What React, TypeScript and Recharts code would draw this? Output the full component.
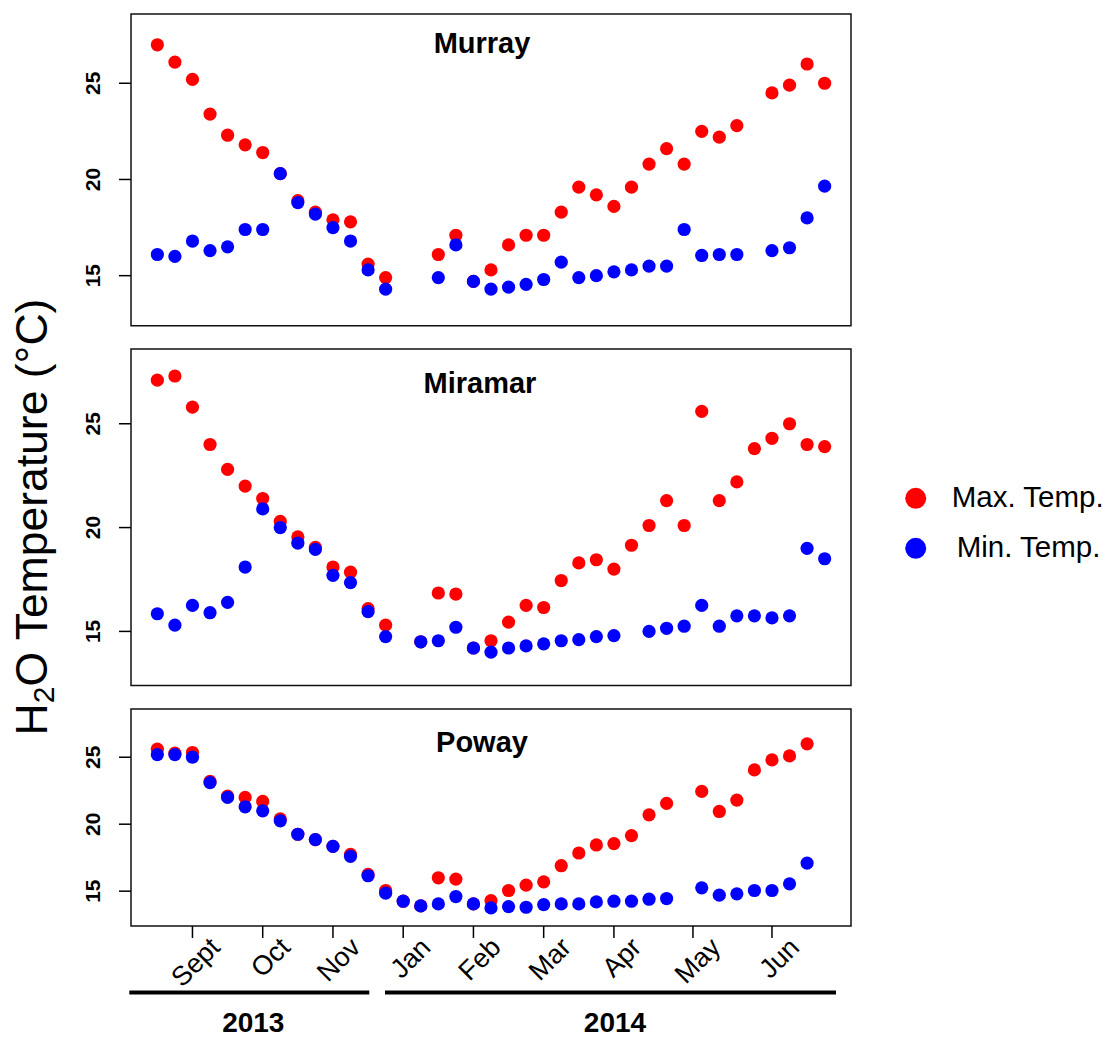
import { ScatterChart, Scatter, XAxis, YAxis, ReferenceArea } from 'recharts'

// weekly sample index (0 = early Aug 2013)
const weeks = Array.from({ length: 39 }, (_, i) => i)

const monthTicks = [2, 6, 10, 14, 18, 22, 26, 30.5, 35]
const monthLabels = ['Sept', 'Oct', 'Nov', 'Jan', 'Feb', 'Mar', 'Apr', 'May', 'Jun']
const tempTicks = [15, 20, 25]

const murrayMax = [27.0, 26.1, 25.2, 23.4, 22.3, 21.8, 21.4, 20.3, 18.9, 18.3, 17.9, 17.8, 15.6, 14.9, null, null, 16.1, 17.1, 14.7, 15.3, 16.6, 17.1, 17.1, 18.3, 19.6, 19.2, 18.6, 19.6, 20.8, 21.6, 20.8, 22.5, 22.2, 22.8, null, 24.5, 24.9, 26.0, 25.0]
const murrayMin = [16.1, 16.0, 16.8, 16.3, 16.5, 17.4, 17.4, 20.3, 18.8, 18.2, 17.5, 16.8, 15.3, 14.3, null, null, 14.9, 16.6, 14.7, 14.3, 14.4, 14.55, 14.8, 15.7, 14.9, 15.0, 15.2, 15.3, 15.5, 15.5, 17.4, 16.05, 16.1, 16.1, null, 16.3, 16.45, 18.0, 19.65]

const miramarMax = [27.1, 27.3, 25.8, 24.0, 22.8, 22.0, 21.4, 20.3, 19.55, 19.05, 18.1, 17.85, 16.1, 15.3, null, 14.5, 16.85, 16.8, 14.2, 14.55, 15.45, 16.25, 16.15, 17.45, 18.3, 18.45, 18.0, 19.15, 20.1, 21.3, 20.1, 25.6, 21.3, 22.2, 23.8, 24.3, 25.0, 24.0, 23.9]
const miramarMin = [15.85, 15.3, 16.25, 15.9, 16.4, 18.1, 20.9, 20.0, 19.25, 18.95, 17.7, 17.35, 15.95, 14.75, null, 14.5, 14.55, 15.2, 14.2, 14.0, 14.2, 14.3, 14.4, 14.55, 14.6, 14.75, 14.8, null, 15.0, 15.15, 15.25, 16.25, 15.25, 15.75, 15.75, 15.65, 15.75, 19.0, 18.5]

const powayMax = [25.6, 25.3, 25.35, 23.2, 22.1, 22.0, 21.7, 20.4, 19.25, 18.85, 18.35, 17.75, 16.25, 15.05, 14.25, 13.9, 16.0, 15.9, 14.05, 14.3, 15.05, 15.45, 15.7, 16.9, 17.85, 18.45, 18.55, 19.15, 20.7, 21.55, null, 22.45, 20.95, 21.8, 24.05, 24.8, 25.1, 26.0, null]
const powayMin = [25.2, 25.2, 25.0, 23.1, 22.0, 21.3, 21.0, 20.25, 19.25, 18.85, 18.35, 17.6, 16.15, 14.85, 14.25, 13.9, 14.05, 14.6, 14.05, 13.75, 13.85, 13.8, 14.0, 14.05, 14.05, 14.2, 14.25, 14.25, 14.4, 14.45, null, 15.25, 14.7, 14.8, 15.05, 15.05, 15.55, 17.1, null]

const FONT = '"Liberation Sans", Arial, sans-serif'
const RED = '#ff0000'
const BLUE = '#0000ff'
const X_DOMAIN = [-1.5, 39.5]
const Y_DOMAIN = [12.4, 28.6]
const PLOT_LEFT = 131
const PLOT_RIGHT = 851

function toPoints(values: (number | null)[]) {
    return weeks
        .map((w, i) => ({ week: w, temp: values[i] }))
        .filter((d) => d.temp != null)
}

function dot(color: string) {
    return (p: any) => <circle cx={p.cx} cy={p.cy} r={6.6} fill={color} />
}

function TempTick(props: any) {
    const { x, y, payload } = props
    const tx = x - 19
    return (
        <text
            x={tx}
            y={y}
            transform={`rotate(-90, ${tx}, ${y})`}
            textAnchor="middle"
            fontFamily={FONT}
            fontWeight="bold"
            fontSize={21}
            fill="#000"
        >
            {payload.value}
        </text>
    )
}

function MonthTick(props: any) {
    const { x, y, payload } = props
    const tx = x + 29
    const ty = y + 11
    const label = monthLabels[monthTicks.indexOf(payload.value)]
    return (
        <text
            x={tx}
            y={ty}
            transform={`rotate(-45, ${tx}, ${ty})`}
            textAnchor="end"
            fontFamily={FONT}
            fontSize={27}
            fill="#000"
        >
            {label}
        </text>
    )
}

function Panel({ top, bottom, max, min, showX }: any) {
    const pad = 10
    const xAxisHeight = showX ? 112 : 0
    const height = bottom - top + pad + (showX ? xAxisHeight : pad)
    return (
        <div style={{ position: 'absolute', left: 0, top: top - pad }}>
            <ScatterChart
                width={1110}
                height={height}
                margin={{ top: pad, right: 1110 - PLOT_RIGHT, bottom: showX ? 0 : pad, left: 0 }}
            >
                <XAxis
                    type="number"
                    dataKey="week"
                    domain={X_DOMAIN}
                    ticks={monthTicks}
                    allowDataOverflow
                    hide={!showX}
                    height={xAxisHeight}
                    axisLine={false}
                    tickSize={12}
                    tickMargin={0}
                    tickLine={{ stroke: '#000', strokeWidth: 1.5 }}
                    tick={<MonthTick />}
                    interval={0}
                />
                <YAxis
                    type="number"
                    dataKey="temp"
                    domain={Y_DOMAIN}
                    ticks={tempTicks}
                    allowDataOverflow
                    width={PLOT_LEFT}
                    axisLine={false}
                    tickSize={12}
                    tickMargin={0}
                    tickLine={{ stroke: '#000', strokeWidth: 1.5 }}
                    tick={<TempTick />}
                    interval={0}
                />
                <ReferenceArea
                    x1={X_DOMAIN[0]}
                    x2={X_DOMAIN[1]}
                    y1={Y_DOMAIN[0]}
                    y2={Y_DOMAIN[1]}
                    fill="none"
                    stroke="#111"
                    strokeWidth={1.5}
                    ifOverflow="visible"
                />
                <Scatter data={toPoints(max)} shape={dot(RED)} isAnimationActive={false} />
                <Scatter data={toPoints(min)} shape={dot(BLUE)} isAnimationActive={false} />
            </ScatterChart>
        </div>
    )
}

export default function App() {
    return (
        <div style={{ position: 'absolute', left: 0, top: 0, width: 1110, height: 1038, background: '#fff' }}>
            <Panel top={14} bottom={325.7} max={murrayMax} min={murrayMin} />
            <Panel top={349.3} bottom={685.7} max={miramarMax} min={miramarMin} />
            <Panel top={709} bottom={926} max={powayMax} min={powayMin} showX />

            <svg
                width={1110}
                height={1038}
                style={{ position: 'absolute', left: 0, top: 0, pointerEvents: 'none' }}
                fontFamily={FONT}
            >
                <text x={482} y={52.5} textAnchor="middle" fontWeight="bold" fontSize={29}>Murray</text>
                <text x={480} y={393.3} textAnchor="middle" fontWeight="bold" fontSize={29}>Miramar</text>
                <text x={482} y={752.3} textAnchor="middle" fontWeight="bold" fontSize={29}>Poway</text>

                <text x={47} y={517} transform="rotate(-90, 47, 517)" textAnchor="middle" fontSize={44.5}>
                    H<tspan fontSize={30} dy={7}>2</tspan><tspan dy={-7}>O Temperature (°C)</tspan>
                </text>

                <circle cx={915.7} cy={498.3} r={10.5} fill={RED} />
                <text x={951.7} y={506.7} fontSize={29.5}>Max. Temp.</text>
                <circle cx={915.7} cy={548.3} r={10.5} fill={BLUE} />
                <text x={956.7} y={556.7} fontSize={29.5}>Min. Temp.</text>

                <line x1={129.3} x2={369.3} y1={992.5} y2={992.5} stroke="#000" strokeWidth={4} />
                <line x1={385} x2={836} y1={992.5} y2={992.5} stroke="#000" strokeWidth={4} />
                <text x={253.3} y={1032} textAnchor="middle" fontWeight="bold" fontSize={28}>2013</text>
                <text x={615} y={1032} textAnchor="middle" fontWeight="bold" fontSize={28}>2014</text>
            </svg>
        </div>
    )
}
